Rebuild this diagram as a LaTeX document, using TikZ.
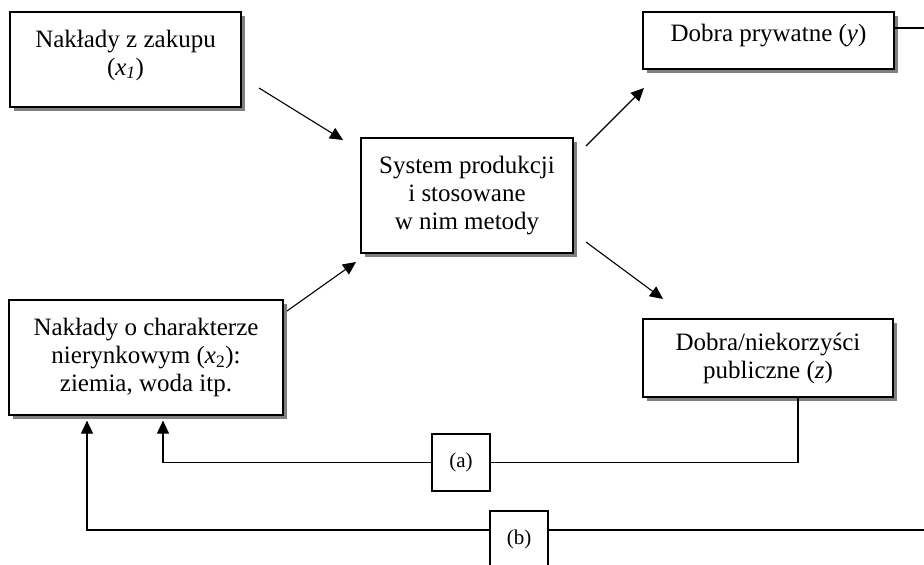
\documentclass[tikz,border=0pt]{standalone}
\usepackage{fontspec}
\setmainfont{Liberation Serif}
\usetikzlibrary{arrows.meta,shadows,calc}

\newcommand{\var}[1]{\textit{#1}}

\begin{document}
\begin{tikzpicture}[x=1pt,y=-1pt,
  box/.style={draw, line width=1.2pt, fill=white, align=center, inner sep=0pt,
    general shadow={fill=black!50, shadow xshift=4pt, shadow yshift=-4pt}},
  tag/.style={draw, line width=1.1pt, fill=white, inner sep=0pt,
    minimum width=58pt, minimum height=57pt},
  link/.style={line width=1.1pt},
  arr/.style={line width=1.1pt, -{Triangle[length=13pt,width=12pt]}},
  font=\fontsize{25}{28}\selectfont]

\path[use as bounding box, clip] (0,0) rectangle (924,565);

% boxes
\node[box, minimum width=231pt, minimum height=95pt] (buy) at (125.5,59.5)
  {Nakłady z zakupu\\(\var{x}\textsubscript{\var{1}})\\[-14pt]};
\node[box, minimum width=274pt, minimum height=115pt] (land) at (146,357.5)
  {Nakłady o charakterze\\nierynkowym (\var{x}\textsubscript{2}):\\ziemia, woda itp.};
\node[box, minimum width=212pt, minimum height=115pt] (sys) at (467,195.5)
  {System produkcji\\i stosowane\\w nim metody};
\node[box, minimum width=251pt, minimum height=57pt] (priv) at (768.5,40.5)
  {Dobra prywatne (\var{y})\\[-12pt]};
\node[box, minimum width=250pt, minimum height=78pt] (pub) at (768,358)
  {Dobra/niekorzyści\\publiczne (\var{z})};

% feedback tags
\node[tag, font=\fontsize{21}{24}\selectfont] (ta) at (461,462.5) {(a)\\[-8pt]};
\node[tag, font=\fontsize{21}{24}\selectfont] (tb) at (519,539.5) {(b)\\[-12pt]};

% arrow end points
\coordinate (buyOut) at (259,88);
\coordinate (sysInA) at (343,140);
\coordinate (landOut) at (287,311);
\coordinate (sysInB) at (356,262);
\coordinate (sysOutA) at (586,146);
\coordinate (privIn) at (644,88);
\coordinate (sysOutB) at (586,242);
\coordinate (pubIn) at (663,299);
\coordinate (rightA) at (924,28);
\coordinate (rightB) at (924,530);

% flows
\draw[arr] (buyOut) -- (sysInA);
\draw[arr] (landOut) -- (sysInB);
\draw[arr] (sysOutA) -- (privIn);
\draw[arr] (sysOutB) -- (pubIn);

% outgoing line of private goods
\draw[link] ($(priv.east)+(0,-12.5)$) -- (rightA);

% feedback loop (a)
\draw[link] ($(pub.south)+(30,0)$) |- (ta.east);
\draw[arr] (ta.west) -| ($(land.south)+(17,5)$);

% feedback loop (b)
\draw[link] (rightB) -- (rightB -| tb.east);
\draw[arr] (rightB -| tb.west) -| ($(land.south)+(-59,5)$);
\end{tikzpicture}
\end{document}
